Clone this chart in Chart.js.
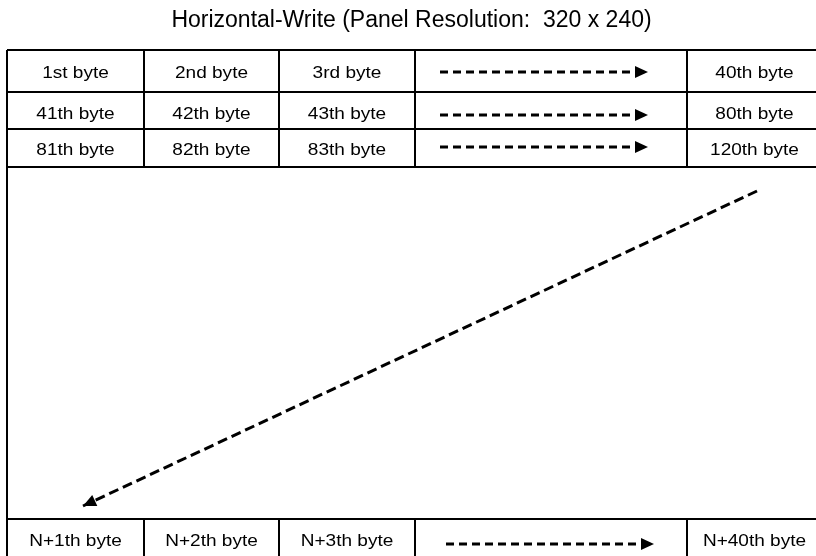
<!DOCTYPE html>
<html>
<head>
<meta charset="utf-8">
<script src="https://cdn.jsdelivr.net/npm/chart.js@4.4.0/dist/chart.umd.min.js"></script>
<style>
    html, body { margin: 0; padding: 0; background: #fff; }
</style>
</head>
<body>
<canvas id="writeOrderChart" width="816" height="556"></canvas>
<script>
// Title
const chartTitle = 'Horizontal-Write (Panel Resolution:  320 x 240)';

// Table grid, in table units (x: 0..809 visible, y: 0..506 from the top edge)
const colEdges = [0, 137, 272, 408, 680, 815];
const rowEdges = [0, 42, 79, 117, 469, 507];
const rowMid = [23, 64, 100, 491];

// Cell labels ('' = arrow column)
const rowLabels = [
    ['1st byte', '2nd byte', '3rd byte', '', '40th byte'],
    ['41th byte', '42th byte', '43th byte', '', '80th byte'],
    ['81th byte', '82th byte', '83th byte', '', '120th byte'],
    ['N+1th byte', 'N+2th byte', 'N+3th byte', '', 'N+40th byte']
];

// Arrows: start and end points
const arrowStartX = [433, 433, 433, 750, 439];
const arrowStartY = [22, 65, 97, 141, 494];
const arrowEndX = [641, 641, 641, 76, 647];
const arrowEndY = [22, 65, 97, 456, 494];

// Draw the table lines and cell text
const tablePlugin = {
    id: 'byteTable',
    beforeDatasetsDraw(chart) {
        const { ctx, scales: { x, y } } = chart;
        ctx.save();
        ctx.strokeStyle = '#000';
        ctx.lineWidth = 2;

        // horizontal lines
        rowEdges.forEach(r => {
            ctx.beginPath();
            ctx.moveTo(x.getPixelForValue(colEdges[0]), y.getPixelForValue(r));
            ctx.lineTo(x.getPixelForValue(colEdges[colEdges.length - 1]), y.getPixelForValue(r));
            ctx.stroke();
        });

        // vertical lines in the top block and bottom row
        const blocks = [[rowEdges[0], rowEdges[3]], [rowEdges[4], rowEdges[5]]];
        blocks.forEach(([r0, r1]) => {
            colEdges.forEach(c => {
                ctx.beginPath();
                ctx.moveTo(x.getPixelForValue(c), y.getPixelForValue(r0));
                ctx.lineTo(x.getPixelForValue(c), y.getPixelForValue(r1));
                ctx.stroke();
            });
        });

        // outer left / right edges through the empty area
        [colEdges[0], colEdges[colEdges.length - 1]].forEach(c => {
            ctx.beginPath();
            ctx.moveTo(x.getPixelForValue(c), y.getPixelForValue(rowEdges[3]));
            ctx.lineTo(x.getPixelForValue(c), y.getPixelForValue(rowEdges[4]));
            ctx.stroke();
        });

        // cell text (slightly wide, like the original)
        ctx.fillStyle = '#000';
        ctx.font = '17px "Liberation Sans", Arial, sans-serif';
        ctx.textAlign = 'center';
        ctx.textBaseline = 'middle';
        rowLabels.forEach((labels, i) => {
            labels.forEach((label, j) => {
                if (!label) return;
                const cx = x.getPixelForValue((colEdges[j] + colEdges[j + 1]) / 2);
                ctx.save();
                ctx.translate(cx, y.getPixelForValue(rowMid[i]));
                ctx.scale(1.12, 1);
                ctx.fillText(label, 0, 0);
                ctx.restore();
            });
        });
        ctx.restore();
    },
    afterDatasetsDraw(chart) {
        // arrowheads at the end of each arrow
        const { ctx } = chart;
        ctx.save();
        ctx.fillStyle = '#000';
        chart.data.datasets.forEach((ds, i) => {
            const pts = chart.getDatasetMeta(i).data;
            const a = pts[0], b = pts[1];
            const ang = Math.atan2(b.y - a.y, b.x - a.x);
            const len = 13, half = 6;
            ctx.save();
            ctx.translate(b.x, b.y);
            ctx.rotate(ang);
            ctx.beginPath();
            ctx.moveTo(0, 0);
            ctx.lineTo(-len, -half);
            ctx.lineTo(-len, half);
            ctx.closePath();
            ctx.fill();
            ctx.restore();
        });
        ctx.restore();
    }
};

const datasets = arrowStartX.map((sx, i) => ({
    data: [
        { x: sx, y: arrowStartY[i] },
        { x: arrowEndX[i], y: arrowEndY[i] }
    ],
    borderColor: '#000',
    borderWidth: 3,
    borderDash: i === 3 ? [10, 5] : [8, 5],
    pointRadius: 0,
    showLine: true,
    fill: false
}));

const ctx = document.getElementById('writeOrderChart').getContext('2d');
new Chart(ctx, {
    type: 'scatter',
    data: { datasets: datasets },
    plugins: [tablePlugin],
    options: {
        responsive: false,
        animation: false,
        devicePixelRatio: 1,
        layout: { padding: { left: 7, right: 0, top: 0, bottom: 0 } },
        plugins: {
            legend: { display: false },
            tooltip: { enabled: false },
            title: {
                display: true,
                text: chartTitle,
                color: '#000',
                font: { family: '"Liberation Sans", Arial, sans-serif', size: 23, weight: 'normal', lineHeight: 1.2 },
                padding: { top: 7, bottom: 15.4 }
            }
        },
        scales: {
            x: { type: 'linear', display: false, min: 0, max: 809 },
            y: { type: 'linear', display: false, min: 0, max: 506, reverse: true }
        }
    }
});
</script>
</body>
</html>
